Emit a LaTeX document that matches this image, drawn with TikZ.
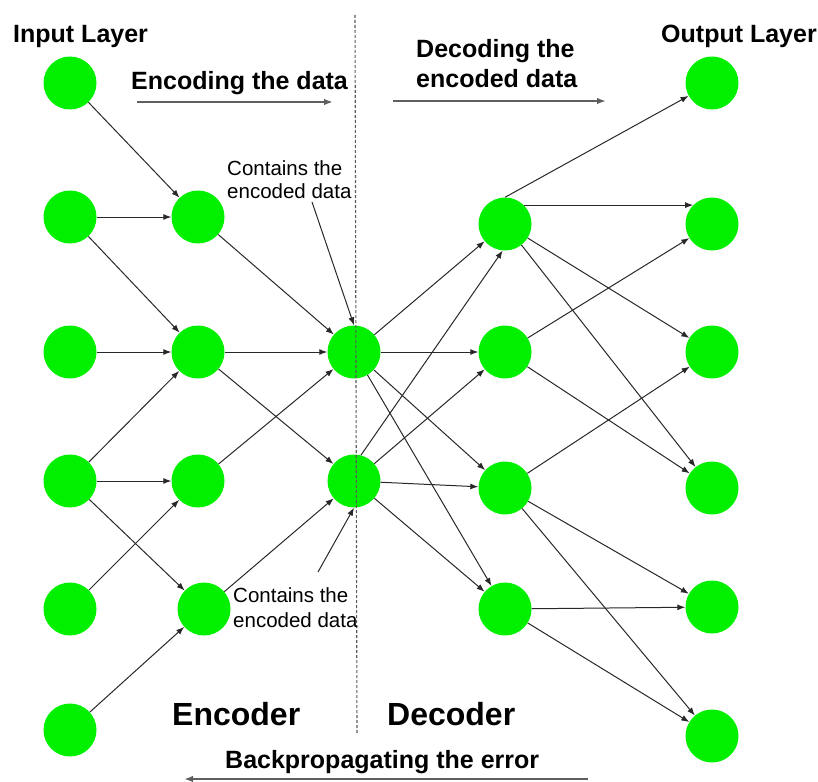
\documentclass[tikz,border=0pt]{standalone}
\usepackage{fontspec}
\setmainfont{Liberation Sans}
\usetikzlibrary{arrows.meta}
\definecolor{nodegreen}{RGB}{0,240,0}
\definecolor{linkgrey}{RGB}{40,40,40}
\definecolor{flowgrey}{RGB}{95,95,95}
\definecolor{dashgrey}{RGB}{90,90,90}
\begin{document}
\begin{tikzpicture}[x=1pt,y=-1pt,
  neuron/.style={circle,fill=nodegreen,draw=none,minimum size=53pt,inner sep=0pt},
  link/.style={draw=linkgrey,line width=1pt,-{Latex[length=8pt,width=6pt]}},
  flow/.style={draw=flowgrey,line width=1.8pt,-{Latex[length=9pt,width=6.5pt]}},
  heading/.style={font=\fontsize{25}{30}\selectfont\bfseries,inner sep=0pt,anchor=base west},
  part/.style={font=\fontsize{32}{38}\selectfont\bfseries,inner sep=0pt,anchor=base west},
  note/.style={font=\fontsize{20.5}{24}\selectfont,inner sep=0pt,anchor=base west}
]
\useasboundingbox (0,0) rectangle (818,781);

% input layer
\node[neuron] (i1) at (70,83) {};
\node[neuron] (i2) at (70,217) {};
\node[neuron] (i3) at (70,352) {};
\node[neuron] (i4) at (70,481) {};
\node[neuron] (i5) at (70,609) {};
\node[neuron] (i6) at (70,730) {};
% encoder hidden layer
\node[neuron] (h1) at (198,217) {};
\node[neuron] (h2) at (198,352) {};
\node[neuron] (h3) at (198,481) {};
\node[neuron] (h4) at (204,609) {};
% code layer
\node[neuron] (b1) at (354,352) {};
\node[neuron] (b2) at (354,481) {};
% decoder hidden layer
\node[neuron] (d1) at (505,224) {};
\node[neuron] (d2) at (505,352) {};
\node[neuron] (d3) at (505,488) {};
\node[neuron] (d4) at (505,609) {};
% output layer
\node[neuron] (o1) at (712,83) {};
\node[neuron] (o2) at (712,224) {};
\node[neuron] (o3) at (712,352) {};
\node[neuron] (o4) at (712,488) {};
\node[neuron] (o5) at (712,607) {};
\node[neuron] (o6) at (712,736) {};

% weighted connections
\foreach \a/\b in {i1/h1,i2/h1,i2/h2,i3/h2,i4/h2,i4/h3,i4/h4,i5/h3,i6/h4,
                   h1/b1,h2/b1,h2/b2,h3/b1,h4/b2,
                   b1/d1,b1/d2,b1/d3,b1/d4,b2/d2,b2/d3,b2/d4,
                   d1/o3,d1/o4,d2/o2,d2/o4,d3/o3,d3/o5,d3/o6,d4/o5,d4/o6}
  \draw[link] (\a) -- (\b);
\draw[link] (b2.75) -- (d1.265);
\draw[link] (d1.north) -- (o1);
\draw[link] (d1.45) -- (o2.135);

% encoder / decoder boundary
\coordinate (cuttop) at (355,15);
\coordinate (cutbot) at (357,733);
\draw[dashgrey,line width=1.1pt,dash pattern=on 3pt off 2pt] (cuttop) -- (cutbot);

% layer titles
\node[heading] (inlabel) at (13,43) {Input Layer};
\node[heading] (outlabel) at (661,43) {Output Layer};

% direction of data flow
\node[heading] (enclabel) at (131,90) {Encoding the data};
\coordinate (encs) at (137,102);
\coordinate (ence) at (333,102);
\draw[flow] (encs) -- (ence);

\node[heading] (declabela) at (416,58) {Decoding the};
\node[heading] (declabelb) at (416,88) {encoded data};
\coordinate (decs) at (393,101);
\coordinate (dece) at (606,101);
\draw[flow] (decs) -- (dece);

% code layer notes
\node[note] (notea1) at (227,175) {Contains the};
\node[note] (notea2) at (227,198) {encoded data};
\coordinate (notea) at (312,202);
\draw[link] (notea) -- (b1.north);

\node[note] (noteb1) at (233,602) {Contains the};
\node[note] (noteb2) at (233,627) {encoded data};
\coordinate (noteb) at (318,572);
\draw[link] (noteb) -- (b2.south);

% halves
\node[part] (enctitle) at (172,725) {Encoder};
\node[part] (dectitle) at (387,725) {Decoder};

% error signal
\node[heading] (backlabel) at (225,768) {Backpropagating the error};
\coordinate (bps) at (588,779);
\coordinate (bpe) at (184,779);
\draw[flow] (bps) -- (bpe);
\end{tikzpicture}
\end{document}
